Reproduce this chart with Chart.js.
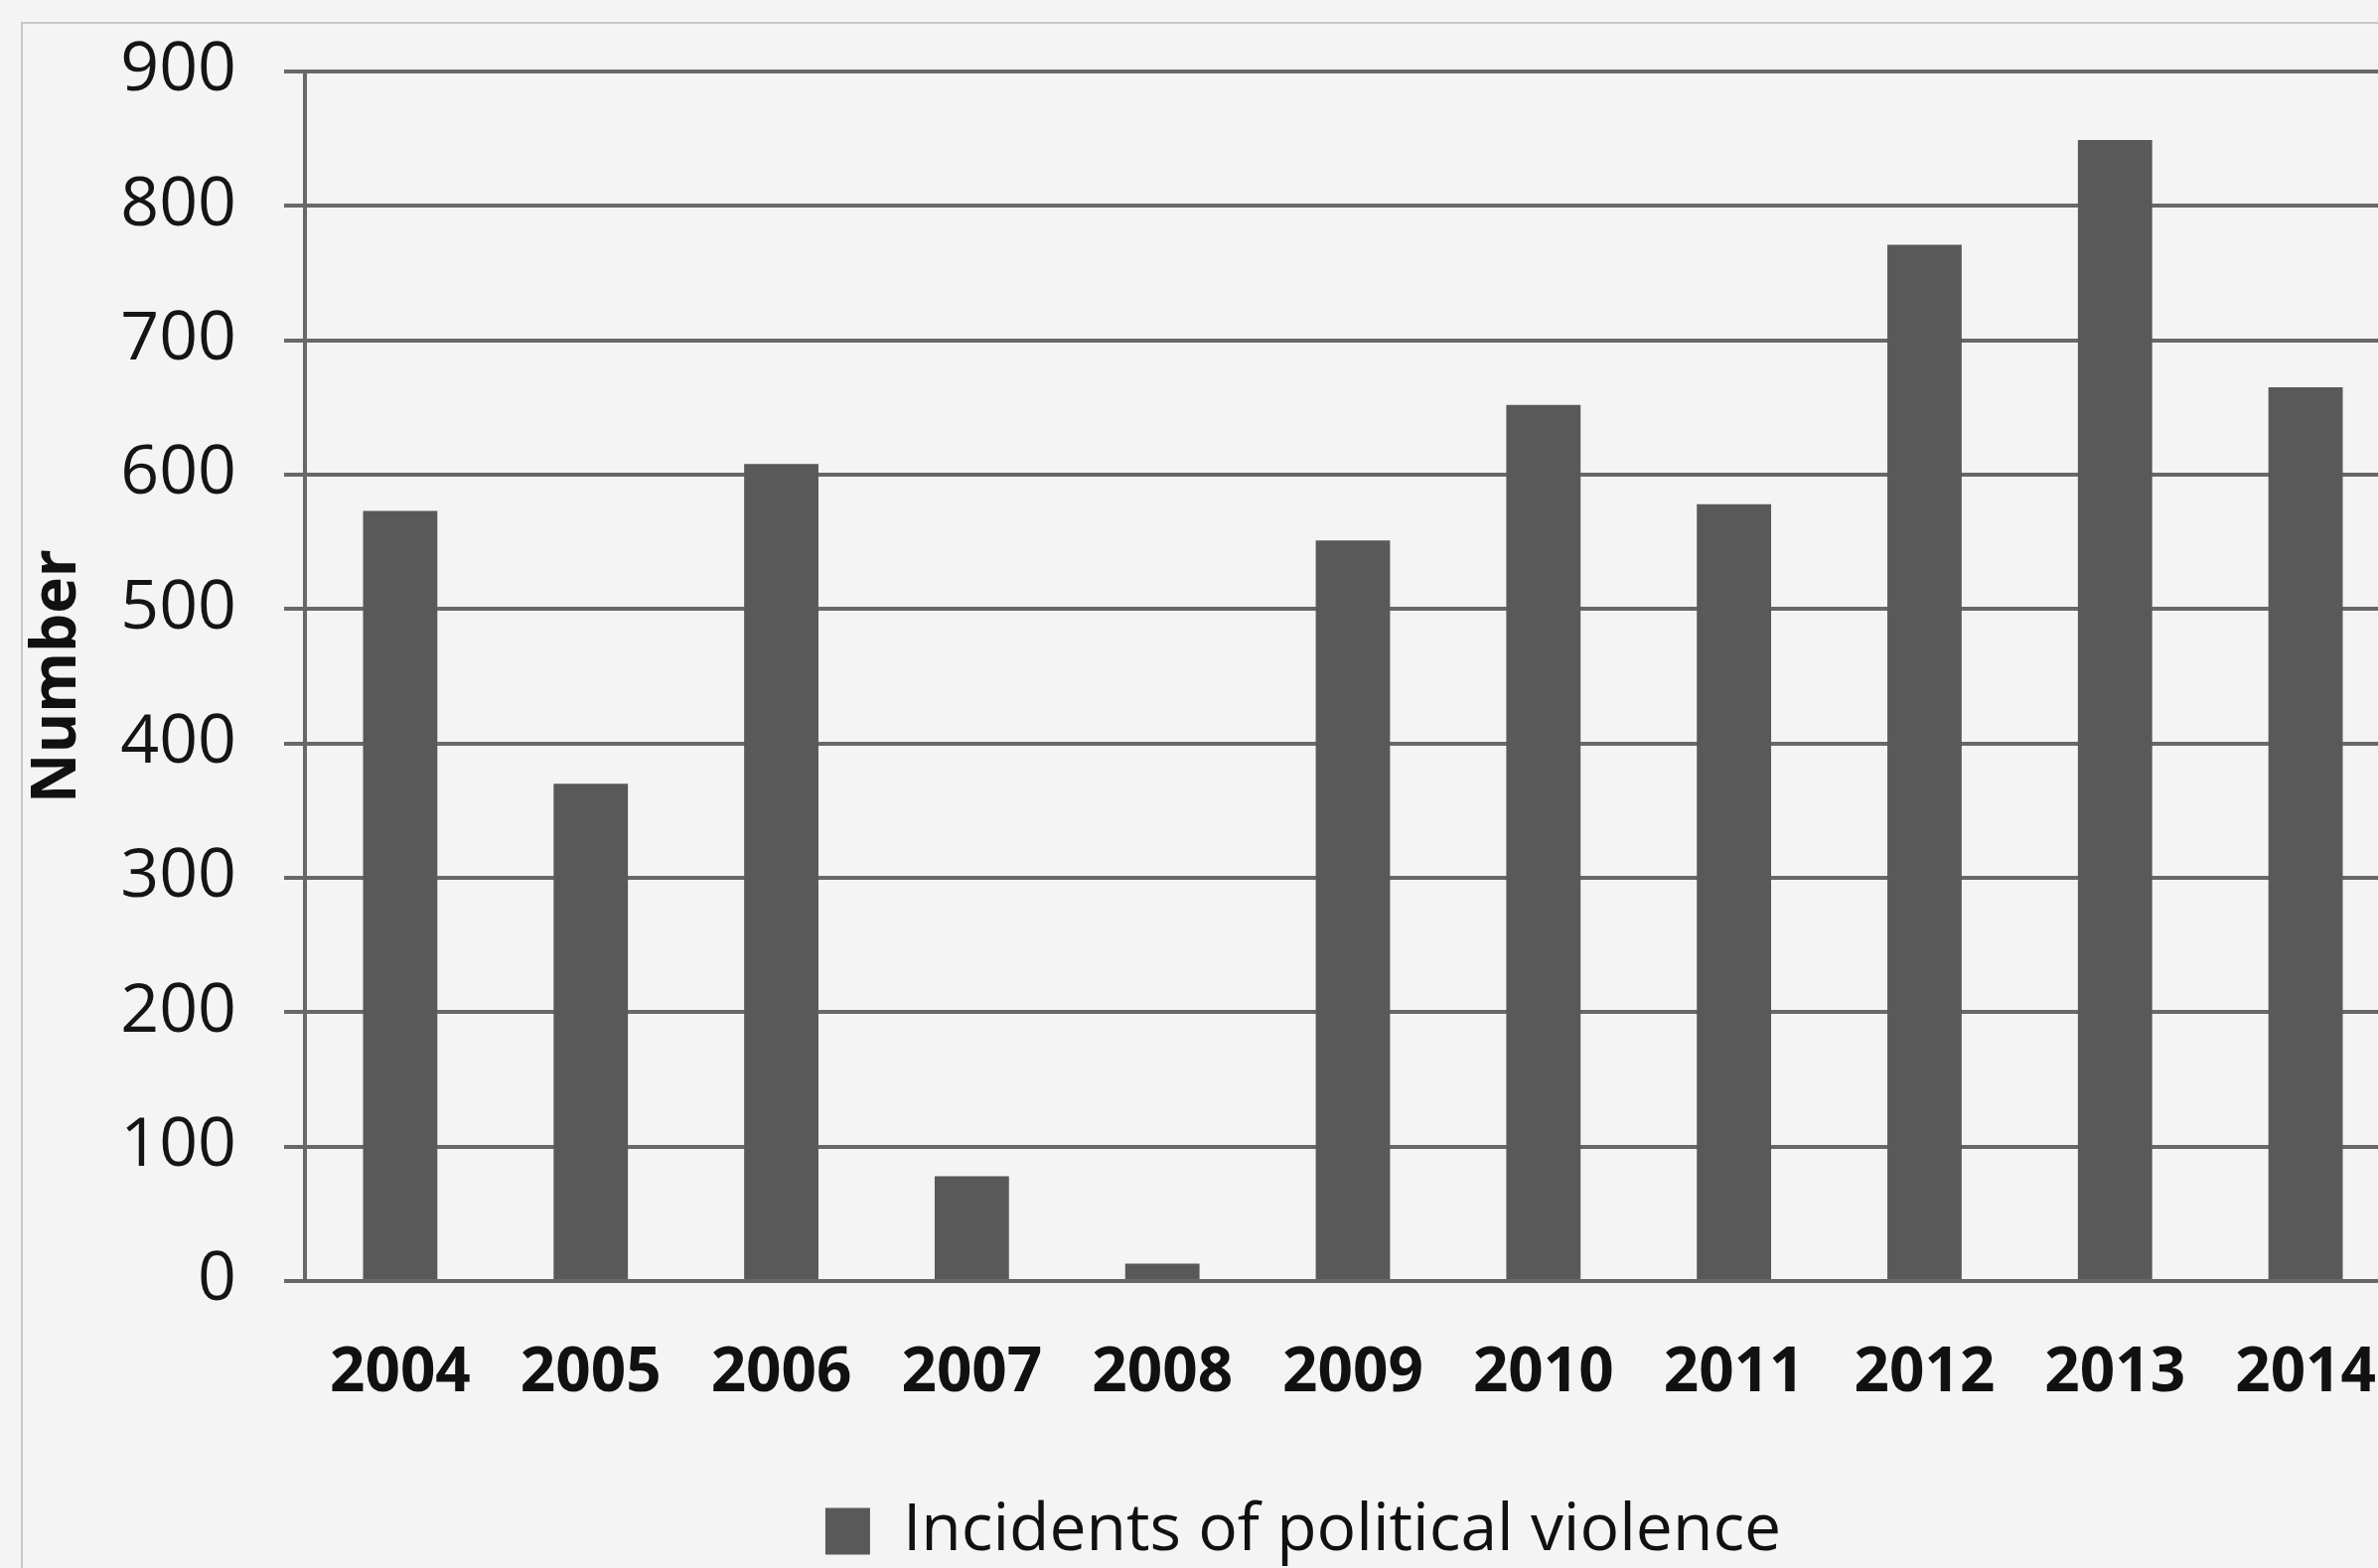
<!DOCTYPE html>
<html><head><meta charset="utf-8">
<script src="https://cdn.jsdelivr.net/npm/chart.js@4/dist/chart.umd.min.js"></script>
<style>
html,body{margin:0;padding:0;background:#f4f4f4;overflow:hidden;width:2394px;height:1579px;position:relative}
#frame{position:absolute;left:21px;top:22px;width:2400px;height:1600px;border-left:2px solid #c8c8c8;border-top:2px solid #c8c8c8;box-sizing:border-box}
#c{position:absolute;left:0;top:0}
</style></head><body>
<div id="frame"></div>
<canvas id="c" width="2424" height="1579"></canvas>
<script>
const years = ['2004','2005','2006','2007','2008','2009','2010','2011','2012','2013','2014'];
const incidents = [573, 370, 608, 78, 13, 551, 652, 578, 771, 849, 665];
const yMin = 0, yMax = 900, yStep = 100;
const seriesLabel = 'Incidents of political violence';
const yTitle = 'Number';

const legendShift = {
  id: 'legendShift',
  afterLayout(chart) {
    const lg = chart.legend;
    if (!lg) return;
    const d = 1312 - (lg.left + lg.right) / 2;
    lg.left += d; lg.right += d;
    lg.top += 6; lg.bottom += 6;
  }
};

new Chart(document.getElementById('c'), {
  type: 'bar',
  data: {
    labels: years,
    datasets: [{
      label: seriesLabel,
      data: incidents,
      backgroundColor: '#595959',
      borderWidth: 0,
      categoryPercentage: 1,
      barPercentage: 0.39
    }]
  },
  options: {
    responsive: false,
    animation: false,
    devicePixelRatio: 1,
    layout: { padding: { top: 72, left: 0, right: 7, bottom: 0 } },
    plugins: {
      legend: {
        position: 'bottom',
        labels: {
          font: { family: 'Open Sans', size: 66 },
          color: '#111',
          boxWidth: 45,
          boxHeight: 47,
          padding: 2
        }
      },
      tooltip: { enabled: false }
    },
    scales: {
      x: {
        grid: { display: false, drawTicks: false },
        border: { display: false },
        ticks: {
          font: { family: 'Open Sans', size: 62, weight: 'bold' },
          color: '#111',
          padding: 56,
          maxRotation: 0,
          autoSkip: false
        },
        afterFit(s) {
          s.height = s.chart.height - s.chart.legend.height - 1290;
          s.paddingLeft = 0; s.paddingRight = 0;
        }
      },
      y: {
        min: yMin, max: yMax,
        ticks: {
          stepSize: yStep,
          font: { family: 'Open Sans', size: 68 },
          color: '#151515',
          padding: 48
        },
        grid: { color: '#686868', lineWidth: 4, tickLength: 21, drawTicks: true },
        border: { display: true, color: '#686868', width: 4 },
        title: {
          display: true,
          text: yTitle,
          font: { family: 'Open Sans', size: 62, weight: 'bold' },
          color: '#111',
          padding: { top: 21, bottom: 0 }
        },
        afterFit(s) {
          s.width = 307;
          s.paddingTop = 0; s.paddingBottom = 0;
        }
      }
    }
  },
  plugins: [legendShift]
});
</script>
</body></html>
